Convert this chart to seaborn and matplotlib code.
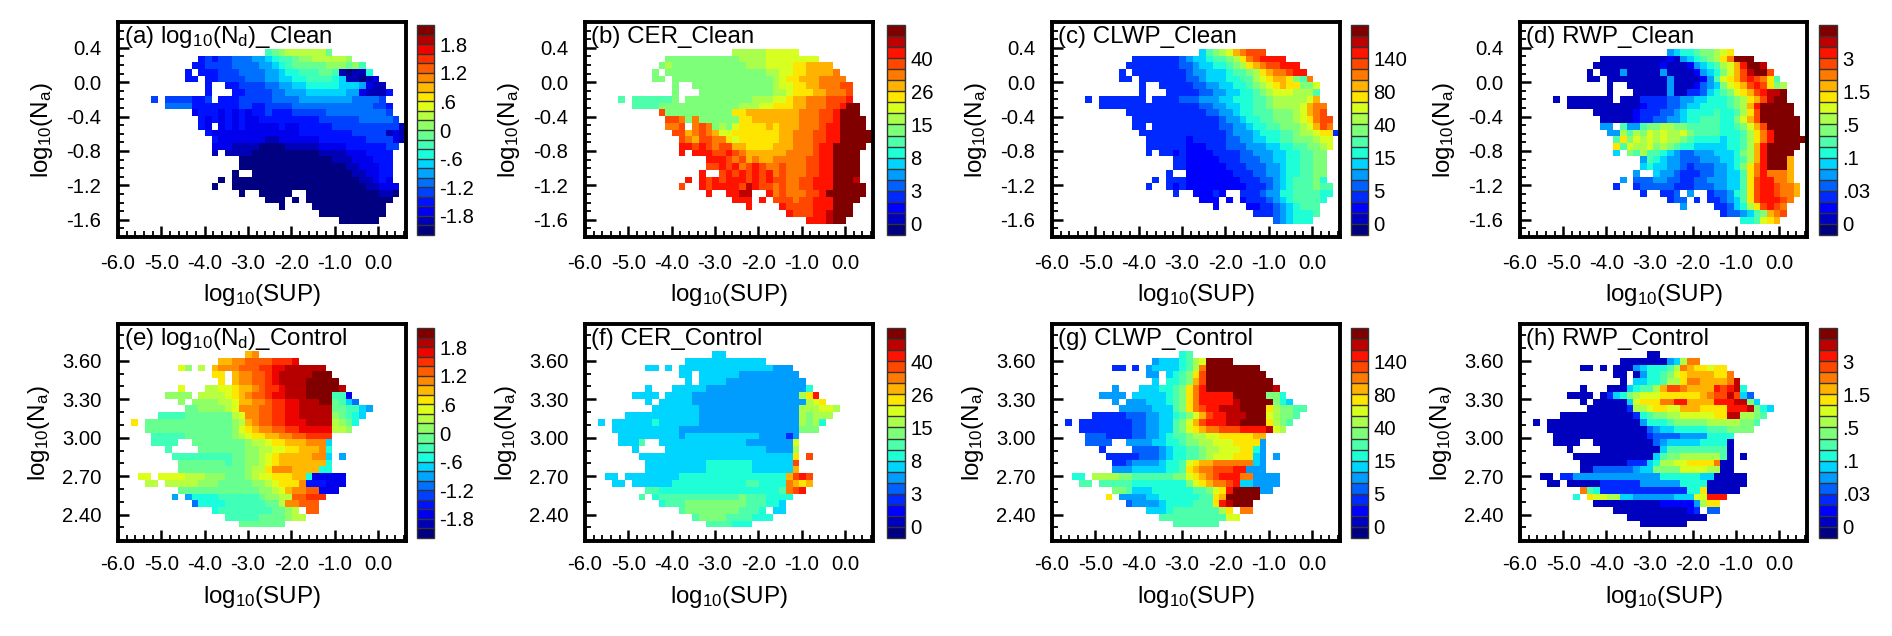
import numpy as np
import matplotlib
matplotlib.use("Agg")
import matplotlib.pyplot as plt
from matplotlib.colors import BoundaryNorm, ListedColormap
from matplotlib.ticker import FixedLocator
import seaborn as sns

# each string is a row of the binned map, top row first, one character per bin
# characters are colour level numbers in base 36, "." means no data
nd_clean = [
    "", "", "", "",
    ".......... .......... ..9abccccc ca",
    ".......... ..34344555 66789 9abbc ccccb",
    ".......... .334444555 5667 89aaaa abbbab9",
    ".......... 3.33344455 5566788999 aa9101 18",
    ".......... 33.3344445 5566778899 998711 012",
    ".......... ...3..3344 4455667788 8887776211",
    ".......... ...3...334 4445566677 7777662 1113",
    ".....4.444 4334.33344 4445555666 6666655554",
    ".......555 5333333344 3344445555 5555555544 3",
    ".......... .233323232 3343334444 4555555555 4",
    ".......... ..32323232 2333333333 4444445555 54",
    ".......... ..32.23232 2222322333 3344444444 441",
    ".......... ...3222222 2222222333 3333344444 121",
    ".......... ....322222 2211222222 3333333444 421",
    ".......... ....222111 1000011111 2222333333 44",
    ".......... ....1.1111 0000000000 1111222333 3",
    ".......... ........00 0000000000 0011122233 3",
    ".......... ........00 0000000000 0000112223 3",
    ".......... .......0.. 0000000000 0000011223 3",
    ".......... .....0.000 0000000000 0000001123 2",
    ".......... ....0..000 0000000000 0000000112 22",
    ".......... ........0. .00000..00 0000000001 10",
    ".......... .......... ..000.0.00 0000000000 0",
    ".......... .......... ....0....0 0000000000",
    ".......... .......... .......... 0000000000",
    ".......... .......... .......... ...000000",
]
cer_clean = [
    "", "", "", "",
    ".......... .......... ..aaaaabbb bb",
    ".......... ..99999999 999aaaabbb bbbbb",
    ".......... .9a9999999 9999aaabbb bccdddd",
    ".......... 9.99999999 9999999aab bccdddde",
    ".......... 99.9999999 99999999ab ccdddeeee",
    ".......... ...9..9999 99999999ab bccddeeeff",
    ".......... ...9...999 99999999aa bcccddeeef",
    ".....8.888 8889.99999 99999aaabb cddeeefffg",
    ".......888 8999999999 999aaabbcc cddeeeffgi i",
    ".......... .f99999999 99ccdddddd ddeeeffgii i",
    ".......... ..ffe9e999 999ccddddd ddeeeffgii ii",
    ".......... ..eef.efe9 a9bccccdcd ddeeefggii ii",
    ".......... ...ffdefed bbcccccccd deeeffggii iii",
    ".......... ....fedffe ecbccccccd deeeffggii iii",
    ".......... ....ggfgfe ffddccccdd deeefggiii ii",
    ".......... ....g.gggf fgfedddddd eeeefggiii i",
    ".......... ........gg gfefdeddee eeeffggiii i",
    ".......... ........ff gfgefgfeef eeeffggiii i",
    ".......... .......g.. fgfgfgfgef eeeffggiii i",
    ".......... .....g.gfg fgggfgfgff eeffgggiii h",
    ".......... ....f..gfg gggfhgffef eeffgggiii ii",
    ".......... ........g. .gghh..gef eeeffgiiii ii",
    ".......... .......... ..ggg.g.ff feffgggiii i",
    ".......... .......... ....g....g ffffgggiii",
    ".......... .......... .......... gfffgghiii",
    ".......... .......... .......... ...ggghii",
]
clwp_clean = [
    "", "", "", "",
    ".......... .......... ..689abdef ff",
    ".......... ..33333334 5667889ace fgggg",
    ".......... .333333334 4566778 9ac deffggg",
    ".......... 3.33333333 4556667889 acdeefgg",
    ".......... 33.3333333 4456667788 abcddc98e",
    ".......... ...3..3333 3445566778 9abcdcc99b",
    ".......... ...3...333 3344556677 89abbbaaa8",
    ".....3.333 3333.33334 4455566777 889aaaaabd",
    ".......333 3333333333 3344556677 889aaaabde e",
    ".......... .333333333 3334455677 888999abde f",
    ".......... ..33333333 3333345567 788999abce ff",
    ".......... ..33.33333 3333344556 7788999abd fe",
    ".......... ...3333333 3333334555 6777889aab cc3",
    ".......... ....333333 2333334455 667788999a bb",
    ".......... ....333333 2223334445 5566778899 ab",
    ".......... ....3.3323 2222333344 5556677889 9",
    ".......... ........33 2222233344 4556677889 9",
    ".......... ........33 2222223334 4455677889 9",
    ".......... .......3.. 2222222333 4455677889 9",
    ".......... .....3.333 2222222233 3445678889 7",
    ".......... ....3..323 2222222223 3345678889 88",
    ".......... ........3. .22232..33 3455778888 77",
    ".......... .......... ..222.2.23 3345678888 7",
    ".......... .......... ....2....2 2334567888",
    ".......... .......... .......... 3334567778",
    ".......... .......... .......... ...456777",
]
rwp_clean = [
    "", "", "", "",
    ".......... .......... ..5677899a bc",
    ".......... ..11111111 1121567 89a ceiii",
    ".......... .111111111 1211125678 abdgiih",
    ".......... 1.11151111 1511112567 9bdfhiif",
    ".......... 11.1111111 1151111258 bcdfgfec8",
    ".......... ...1..1111 1151112456 9bcdfgfc9a",
    ".......... ...1...111 1151133467 89bcdfghhi",
    ".....1.111 1111.11133 3344556677 789acdfhii",
    ".......111 1111111123 3344566777 789adgiiii i",
    ".......... .111111233 3445677778 778acfiiii i",
    ".......... ..11111233 4455677888 779bdfiiii ii",
    ".......... ..55.85589 9aa9988888 7789bdfiii ii",
    ".......... ...55a8a9b abaab98888 7778acegii ii",
    ".......... ....8c9bab abaa987777 6778acegii iii",
    ".......... ....c8baab 9a98776666 6778adgiii ii",
    ".......... ....6.98a8 8765445556 6679adgiii i",
    ".......... ........58 7655444555 6678adgiii d",
    ".......... ........67 6655434445 5679cegiii d",
    ".......... .......5.. 6554333445 5668cegeee d",
    ".......... .....5.444 5544334455 5668cfggee d",
    ".......... ....3..344 4443334445 5668cfggfe ed",
    ".......... ........3. .334.5..34 4578cfggfe ed",
    ".......... .......... ..344.3.33 4568cfgggf e",
    ".......... .......... ....5....3 3467acfgfe",
    ".......... .......... .......... 3445689def",
    ".......... .......... .......... ...778bcd",
]
nd_control = [
    "", "", "", "",
    ".......... .........f g",
    ".......... .....ffggh hhhiiij",
    ".........d b.c.fggghh hiijjkkkkk k",
    ".......... ....ee.fgg hhijkkkkkl ll",
    ".......... .....e.fgg hhijkkkkll lll",
    ".........d ...ccddeff ghiijkkkll lllk",
    ".......bbb b.ccccdefg hhijjkkkll ll992",
    ".........b .bbbbccdff gghiijjkkk lla975",
    ".......... aabbbbcdgg ghhiijjkkk kkaa9976",
    "......9999 aaaaaaacdg ghhiijjkkk kkba987",
    "..e.aaaaaa aaaaaaabcf ghhiijjjkk kkcba8",
    "....aaaaaa aaaaaaabde fgghhiijjj jjccb",
    ".....99999 aaaaaaabcd eeffgghhii ii",
    ".....9999. .aaaaaaaab ccdeefffgg g7",
    ".......9.. ..aaaaaaab bccddeefff g8",
    "........99 9999999aab bcdefffffg g7.6",
    ".........a aaaaaa9aab bcdeffffff f8",
    ".........a aaaaaaaaab ccegggffff 88",
    "...dd.dddd cccbbbaaab cddeeeff82 2222",
    "....cc.ccc ccbbbaaaaa bbcdeeeg33 3222",
    ".........a aaaaaaaaaa abbcdfgghh 222",
    "........6. 6888899999 9abbcchhii i",
    ".......... .588889999 99aacgghhh",
    ".......... ....899999 999aabc.hh",
    ".......... ......9999 9aaaabcc",
    ".......... ........aa aaaaa",
]
cer_control = [
    "", "", "", "",
    ".......... .........6 6",
    ".......... .....66666 6666666",
    ".........6 6.6.666666 6666666655 5",
    ".......... ....66.666 6665555555 55",
    ".......... .....6.666 6555555555 555",
    ".........6 ...6666655 5555555555 5557",
    ".......666 6.66665555 5555555555 55acg",
    ".........6 .666665555 5555555555 555abc",
    ".......... 6666666555 5555555555 55aaabba",
    "......6666 6666666555 5555555555 55a9aaa",
    "..6.666666 7666666555 5555555555 55a9a7",
    "....666666 6666555555 5555555555 55999",
    ".....66666 6666566666 6666665555 35",
    ".....6668. .666666666 6666555555 5b",
    ".......6.. ..66666666 6666666555 5a",
    "........66 6666666666 6666666666 6c.f",
    ".........6 6666666677 7777766666 6f",
    ".........6 6666666677 7777766666 6d",
    "...66.6666 6666777777 7777777777 dfgf",
    "....66.666 6667777777 7777887777 edcd",
    ".........8 8777777777 7777777778 efg",
    "........8. 7888888888 8889888777 7",
    ".......... .788899999 9999888776",
    ".......... ....899999 9998887.66",
    ".......... ......8999 98888777",
    ".......... ........88 88777",
]
clwp_control = [
    "", "", "", "",
    ".......... .........7 8",
    ".......... .....56667 8abiiii",
    ".........3 3.3.566667 8aeiiiiiii i",
    ".......... ....55.678 9cfiiiiiii ii",
    ".......... .....6.778 9dfiiiiiii iii",
    ".........5 ...6667789 cegiiiiiii iiih",
    ".......555 5.66666789 cegggggiii ii997",
    ".........5 .555666789 ceggggghii iii976",
    ".......... 5555566689 cefgghhhii iica9988",
    "......3333 3444556678 9bdfgghhhi iiba998",
    "..3.333333 3344556689 bdfggghhii iica98",
    "....333333 3344556689 bcdeefffgg gghba",
    ".....44433 3344556788 9aabbccccc dd",
    ".....4444. .555566778 99aabbbccc c5",
    ".......3.. ..44445677 889aabbbcc 75",
    "........33 3334445677 889abbbccc 65.5",
    ".........3 3455556778 bcddeeeeee 65",
    ".........5 5566666778 cdeefffgg5 55",
    "...77.aaaa 9988888899 bcdefgggee 5555",
    "....88.888 8877777777 9bcdeefg66 5555",
    ".........9 9866677777 7889bcgiii i55",
    "........c. 5555667777 7788cdiiii i",
    ".......... .455556777 7888cghiii",
    ".......... ....666788 88888ac.ee",
    ".......... ......8888 888888bb",
    ".......... ........88 88888",
]
rwp_control = [
    "", "", "", "",
    ".......... .........1 1",
    ".......... .....11111 1156aee",
    ".........1 1.1.111567 778aedccbc c",
    ".......... ....11.157 789bcddddc ce",
    ".......... .....1.667 78aaceeddd deh",
    ".........1 ...1116788 adffeddddg fgh7",
    ".......111 1.13679abb bccccccdef fhf64",
    ".........1 .111116bcc ceeggddddg gghh96",
    ".......... 1111113aab ccbbdddccc cgggh976",
    "......1111 1111111378 99aabbbbbc chhaa98",
    "..1.111111 1111111157 77899999aa aaa998",
    "....111111 1111111114 5667777788 89999",
    ".....11111 1111111113 4444555577 77",
    ".....1111. .111111111 4566666777 71",
    ".......1.. ..11111111 1688888888 81",
    "........11 1111111111 6899aaaaaa 81.1",
    ".........1 1111113336 7aabbcccce 11",
    ".........1 1444444566 9999bbbbaa 11",
    "...11.3355 5555555555 5777777661 1111",
    "....11.111 1133333355 5555777711 1111",
    ".........e 8733333333 3333377c11 111",
    "........7. cbbaa66555 555666bbgg g",
    ".......... .111111111 1222225acc",
    ".......... ....111111 1111123.44",
    ".......... ......1111 11111111",
    ".......... ........11 11111",
]

titles_clean = [r"(a) log$_{10}$(N$_d$)_Clean", "(b) CER_Clean", "(c) CLWP_Clean", "(d) RWP_Clean"]
titles_control = [r"(e) log$_{10}$(N$_d$)_Control", "(f) CER_Control", "(g) CLWP_Control", "(h) RWP_Control"]

nd_levels = ["-1.8", "-1.2", "-.6", "0", ".6", "1.2", "1.8"]
cer_levels = ["0", "3", "8", "15", "26", "40"]
clwp_levels = ["0", "5", "15", "40", "80", "140"]
rwp_levels = ["0", ".03", ".1", ".5", "1.5", "3"]

sup_ticks = [-6.0, -5.0, -4.0, -3.0, -2.0, -1.0, 0.0]
clean_ticks = [0.4, 0.0, -0.4, -0.8, -1.2, -1.6]
control_ticks = [3.6, 3.3, 3.0, 2.7, 2.4]

W, H = 1892, 636
N_ROWS, N_COLS = 32, 43
XLIM = (-6.0, 0.65)
CLEAN_YLIM = (-1.8, 0.7)
CONTROL_YLIM = (2.194, 3.887)
FS = 14.6
FS_BIG = 17.4

sns.set_theme(style="ticks", rc={"axes.edgecolor": "black", "text.color": "black",
                                 "xtick.color": "black", "ytick.color": "black",
                                 "axes.labelcolor": "black", "mathtext.default": "regular"})
plt.rcParams["font.family"] = ["Liberation Sans", "DejaVu Sans"]


def decode(rows):
    grid = np.full((N_ROWS, N_COLS), np.nan)
    for i, row in enumerate(rows):
        for j, ch in enumerate(row.replace(" ", "")):
            if ch != ".":
                grid[i, j] = int(ch, 36)
    return grid


def draw_panel(fig, rows, title, box, cbox, levels, n_levels, first_edge, ylim, yticks, yfmt,
               xpad, xlabel_y, ylabel_x):
    x0, x1, y0, y1 = box
    ax = fig.add_axes([x0 / W, 1 - y1 / H, (x1 - x0) / W, (y1 - y0) / H])
    cax = fig.add_axes([cbox[0] / W, 1 - cbox[3] / H, (cbox[1] - cbox[0]) / W, (cbox[3] - cbox[2]) / H])

    cmap = ListedColormap(plt.get_cmap("jet")(np.linspace(0, 1, n_levels)))
    norm = BoundaryNorm(np.arange(n_levels + 1) - 0.5, n_levels)
    sns.heatmap(decode(rows), ax=ax, cbar_ax=cax, cmap=cmap, norm=norm,
                xticklabels=False, yticklabels=False, cbar_kws={"drawedges": True})

    def xpos(v):
        return (np.asarray(v) - XLIM[0]) / (XLIM[1] - XLIM[0]) * N_COLS

    def ypos(v):
        return (ylim[1] - np.asarray(v)) / (ylim[1] - ylim[0]) * N_ROWS

    for s in ax.spines.values():
        s.set_visible(True)
        s.set_linewidth(2.8)
        s.set_color("black")

    ax.set_xticks(xpos(sup_ticks))
    ax.set_xticklabels([f"{t:.1f}" for t in sup_ticks], fontsize=FS, rotation=0)
    ax.set_yticks(ypos(yticks))
    ax.set_yticklabels([format(t, yfmt) for t in yticks], fontsize=FS, rotation=0)
    ax.xaxis.set_minor_locator(FixedLocator(xpos(np.arange(-30, 4) * 0.2)))
    ax.yaxis.set_minor_locator(FixedLocator(ypos(np.arange(-18, 39) * 0.1)))
    ax.tick_params(which="major", direction="in", length=8, width=1.8, bottom=True, left=True,
                   top=False, right=False)
    ax.tick_params(axis="x", which="major", pad=xpad)
    ax.tick_params(axis="y", which="major", pad=12)
    ax.tick_params(which="minor", direction="in", length=4, width=1.3, bottom=True, left=True,
                   top=False, right=False)
    ax.set_xlim(0, N_COLS)
    ax.set_ylim(N_ROWS, 0)

    ax.set_xlabel(r"log$_{10}$(SUP)", fontsize=FS_BIG, va="center")
    ax.set_ylabel(r"log$_{10}$(N$_a$)", fontsize=FS_BIG, va="center")
    ax.xaxis.set_label_coords(0.5, xlabel_y)
    ax.yaxis.set_label_coords(ylabel_x, 0.5)
    ax.text(0.02, 0.932, title, transform=ax.transAxes, fontsize=FS_BIG, va="center", ha="left")

    cbar = ax.collections[0].colorbar
    cbar.set_ticks([first_edge + 3 * k - 0.5 for k in range(len(levels))], labels=levels)
    cbar.minorticks_off()
    cbar.ax.tick_params(length=0, labelsize=FS, pad=4)
    cbar.outline.set_visible(True)
    cbar.outline.set_linewidth(1.0)
    cbar.outline.set_edgecolor("#333333")
    cbar.dividers.set_color("#333333")
    cbar.dividers.set_linewidth(1.0)


fig = plt.figure(figsize=(W / 100, H / 100), dpi=100)

lefts = [118, 585, 1052, 1520]
rights = [406, 873, 1340, 1807]
cbar_lefts = [417, 887, 1351, 1819]
cbar_rights = [434, 905, 1368, 1837]
clean_maps = [nd_clean, cer_clean, clwp_clean, rwp_clean]
control_maps = [nd_control, cer_control, clwp_control, rwp_control]
level_sets = [nd_levels, cer_levels, clwp_levels, rwp_levels]
level_counts = [22, 19, 19, 19]
first_edges = [2, 1, 1, 1]

for i in range(4):
    draw_panel(fig, clean_maps[i], titles_clean[i], (lefts[i], rights[i], 22, 237),
               (cbar_lefts[i], cbar_rights[i], 25, 235), level_sets[i], level_counts[i],
               first_edges[i], CLEAN_YLIM, clean_ticks, ".1f", 12, -0.27, -0.264)
    draw_panel(fig, control_maps[i], titles_control[i], (lefts[i], rights[i], 324, 541),
               (cbar_lefts[i], cbar_rights[i], 328, 538), level_sets[i], level_counts[i],
               first_edges[i], CONTROL_YLIM, control_ticks, ".2f", 10, -0.26, -0.275)

fig.savefig("out.png", dpi=100)
plt.close(fig)
